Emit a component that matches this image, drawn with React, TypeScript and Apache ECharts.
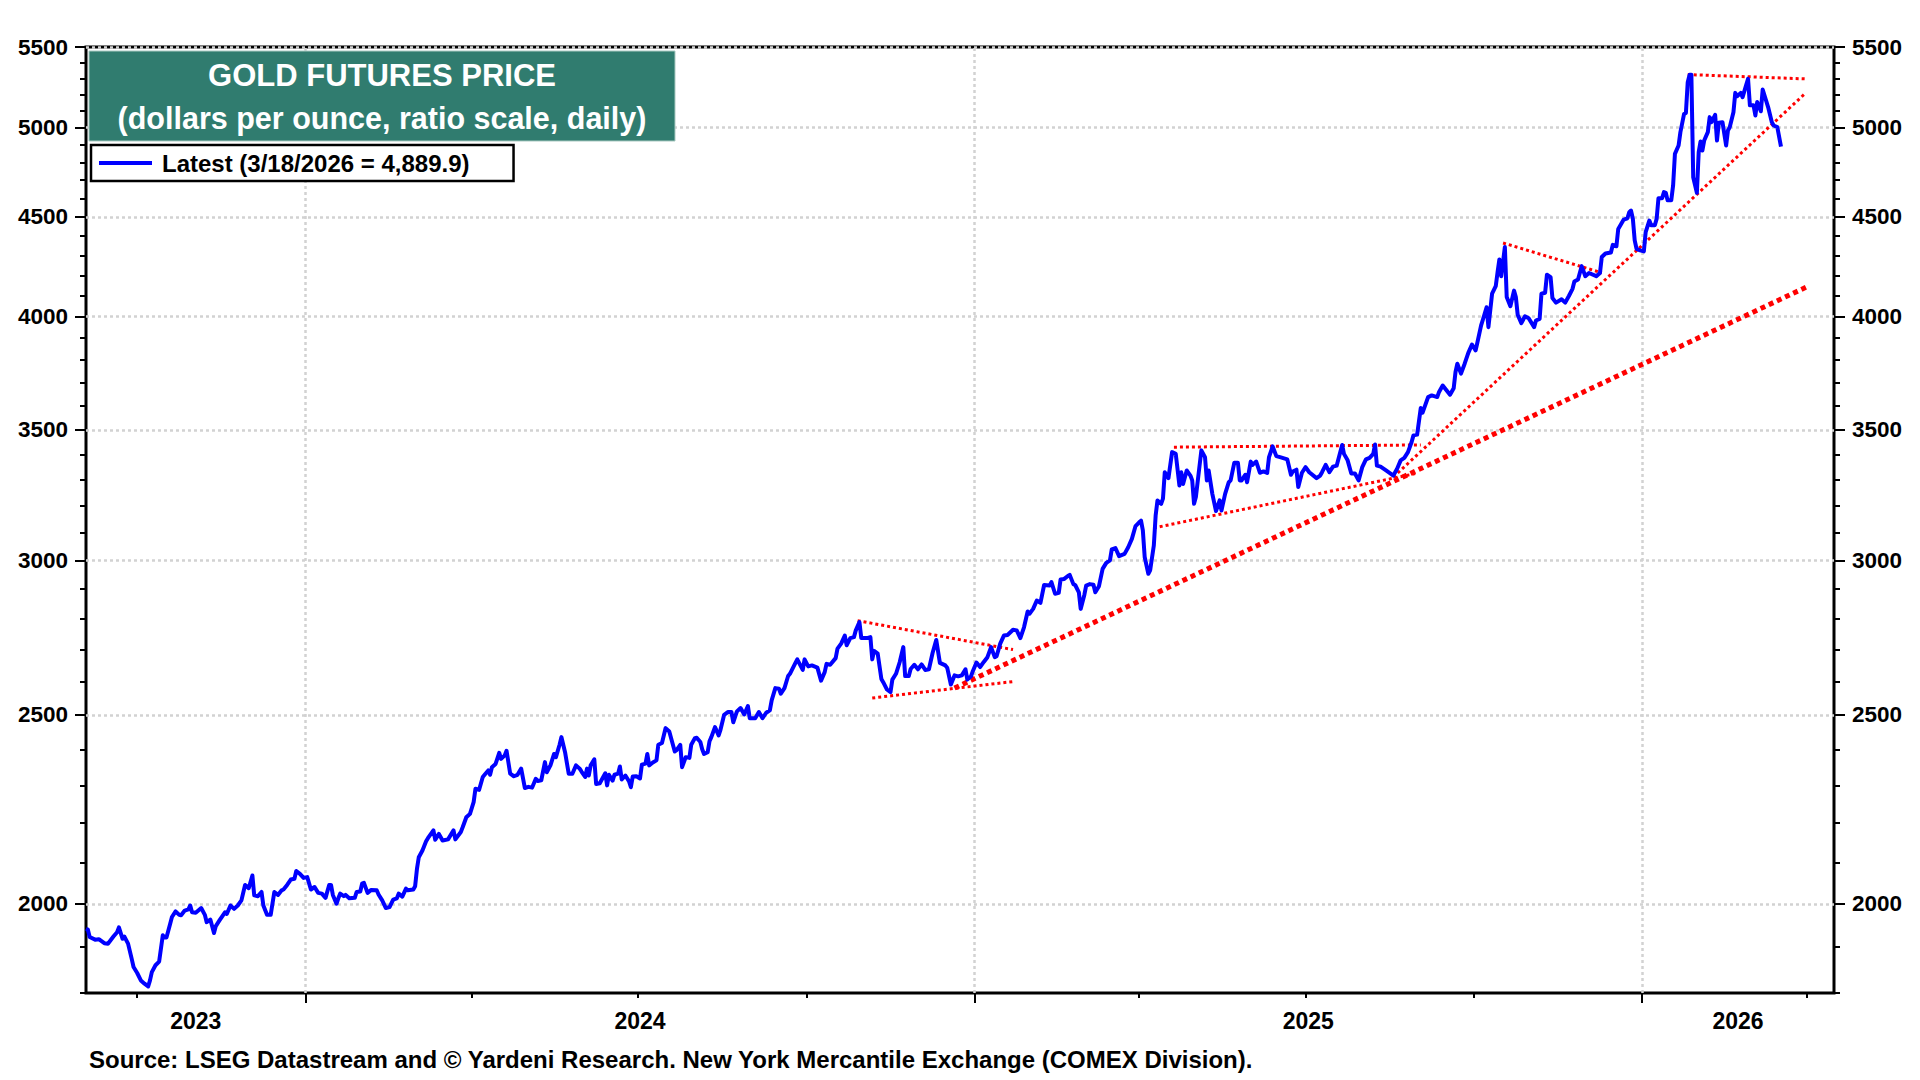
import React, { useEffect, useRef } from 'react';
import * as echarts from 'echarts';

const FONT = '"Liberation Sans", Arial, Helvetica, sans-serif';

// ---- Gold futures price (date, $/oz) ----
const dates2023 = ['2023-09-03','2023-09-04','2023-09-05','2023-09-08','2023-09-10','2023-09-13','2023-09-15','2023-09-18','2023-09-20','2023-09-21','2023-09-23','2023-09-24','2023-09-26','2023-09-28','2023-09-29','2023-10-01','2023-10-03','2023-10-05','2023-10-07','2023-10-08','2023-10-09','2023-10-11','2023-10-13','2023-10-15','2023-10-16','2023-10-17','2023-10-19','2023-10-20','2023-10-22','2023-10-24','2023-10-25','2023-10-27','2023-10-29','2023-10-30','2023-10-31','2023-11-02','2023-11-05','2023-11-07','2023-11-08','2023-11-10','2023-11-12','2023-11-13','2023-11-15','2023-11-18','2023-11-19','2023-11-21','2023-11-23','2023-11-25','2023-11-27','2023-11-29','2023-12-01','2023-12-03','2023-12-04','2023-12-06','2023-12-08','2023-12-09','2023-12-11','2023-12-13','2023-12-15','2023-12-17','2023-12-19','2023-12-20','2023-12-22','2023-12-24','2023-12-26','2023-12-27','2023-12-29','2023-12-31'];
const prices2023 = [1942,1940,1923,1917,1918,1909,1908,1924,1934,1945,1919,1924,1908,1874,1856,1843,1827,1820,1814,1827,1845,1860,1868,1927,1922,1922,1953,1969,1982,1974,1973,1984,1987,1996,1980,1979,1990,1974,1957,1963,1932,1948,1961,1980,1976,1996,1988,1996,2008,2045,2037,2068,2020,2018,2028,1996,1974,1974,2028,2021,2032,2034,2045,2058,2060,2079,2072,2062];

const dates2024 = ['2024-01-02','2024-01-04','2024-01-06','2024-01-08','2024-01-10','2024-01-12','2024-01-14','2024-01-15','2024-01-16','2024-01-18','2024-01-19','2024-01-20','2024-01-22','2024-01-23','2024-01-25','2024-01-28','2024-01-29','2024-01-31','2024-02-01','2024-02-02','2024-02-04','2024-02-06','2024-02-09','2024-02-10','2024-02-12','2024-02-14','2024-02-16','2024-02-18','2024-02-20','2024-02-21','2024-02-23','2024-02-25','2024-02-26','2024-02-29','2024-03-01','2024-03-02','2024-03-03','2024-03-05','2024-03-07','2024-03-08','2024-03-11','2024-03-12','2024-03-14','2024-03-16','2024-03-19','2024-03-22','2024-03-23','2024-03-26','2024-03-27','2024-03-29','2024-03-31','2024-04-02','2024-04-03','2024-04-05','2024-04-07','2024-04-08','2024-04-10','2024-04-11','2024-04-12','2024-04-14','2024-04-16','2024-04-17','2024-04-19','2024-04-20','2024-04-22','2024-04-24','2024-04-26','2024-04-28','2024-04-30','2024-05-02','2024-05-04','2024-05-06','2024-05-07','2024-05-09','2024-05-11','2024-05-12','2024-05-14','2024-05-16','2024-05-17','2024-05-19','2024-05-20','2024-05-22','2024-05-24','2024-05-26','2024-05-28','2024-05-30','2024-05-31','2024-06-02','2024-06-03','2024-06-04','2024-06-05','2024-06-07','2024-06-08','2024-06-10','2024-06-13','2024-06-14','2024-06-15','2024-06-17','2024-06-18','2024-06-20','2024-06-21','2024-06-22','2024-06-24','2024-06-26','2024-06-27','2024-06-28','2024-06-30','2024-07-02','2024-07-03','2024-07-05','2024-07-06','2024-07-07','2024-07-09','2024-07-11','2024-07-12','2024-07-14','2024-07-16','2024-07-18','2024-07-21','2024-07-22','2024-07-24','2024-07-25','2024-07-27','2024-07-29','2024-07-30','2024-08-01','2024-08-02','2024-08-04','2024-08-05','2024-08-06','2024-08-08','2024-08-09','2024-08-10','2024-08-12','2024-08-14','2024-08-15','2024-08-17','2024-08-19','2024-08-21','2024-08-22','2024-08-24','2024-08-26','2024-08-28','2024-08-30','2024-08-31','2024-09-03','2024-09-05','2024-09-07','2024-09-09','2024-09-11','2024-09-12','2024-09-14','2024-09-16','2024-09-17','2024-09-19','2024-09-21','2024-09-22','2024-09-25','2024-09-26','2024-09-29','2024-09-30','2024-10-02','2024-10-04','2024-10-07','2024-10-09','2024-10-11','2024-10-12','2024-10-14','2024-10-17','2024-10-18','2024-10-20','2024-10-22','2024-10-23','2024-10-25','2024-10-27','2024-10-28','2024-10-30','2024-10-31','2024-11-03','2024-11-05','2024-11-06','2024-11-07','2024-11-09','2024-11-11','2024-11-12','2024-11-14','2024-11-16','2024-11-17','2024-11-19','2024-11-21','2024-11-23','2024-11-24','2024-11-26','2024-11-27','2024-11-29','2024-12-01','2024-12-03','2024-12-05','2024-12-07','2024-12-09','2024-12-11','2024-12-13','2024-12-16','2024-12-17','2024-12-19','2024-12-21','2024-12-23','2024-12-25','2024-12-27','2024-12-28','2024-12-30','2024-12-31'];
const prices2024 = [2064,2034,2040,2026,2024,2014,2045,2045,2021,2000,2013,2024,2018,2021,2013,2014,2028,2029,2048,2050,2026,2033,2032,2022,2008,1990,1992,2010,2013,2024,2017,2036,2032,2034,2042,2084,2113,2130,2153,2161,2181,2157,2172,2155,2158,2181,2158,2177,2189,2215,2224,2255,2291,2288,2323,2329,2341,2329,2350,2359,2390,2373,2383,2396,2332,2325,2329,2346,2293,2296,2294,2318,2312,2314,2364,2336,2355,2387,2378,2413,2435,2392,2332,2332,2355,2346,2338,2323,2346,2327,2355,2372,2304,2306,2333,2300,2329,2313,2329,2332,2352,2316,2327,2311,2295,2324,2325,2319,2357,2360,2387,2355,2363,2369,2413,2418,2461,2451,2394,2398,2413,2350,2378,2376,2413,2432,2433,2421,2400,2387,2392,2423,2435,2464,2440,2456,2500,2508,2508,2478,2510,2520,2501,2526,2490,2490,2508,2490,2506,2513,2543,2580,2578,2563,2580,2617,2624,2658,2669,2636,2669,2647,2650,2643,2603,2629,2655,2652,2673,2703,2719,2745,2714,2737,2740,2762,2789,2737,2737,2740,2669,2696,2687,2608,2598,2576,2568,2606,2624,2660,2708,2617,2617,2639,2652,2638,2653,2636,2638,2689,2731,2658,2650,2643,2591,2619,2616,2619,2638,2606,2616,2632];

const dates2025 = ['2025-01-02','2025-01-04','2025-01-06','2025-01-08','2025-01-10','2025-01-12','2025-01-13','2025-01-15','2025-01-17','2025-01-19','2025-01-22','2025-01-24','2025-01-26','2025-01-28','2025-01-30','2025-01-31','2025-02-02','2025-02-04','2025-02-06','2025-02-08','2025-02-11','2025-02-12','2025-02-14','2025-02-16','2025-02-17','2025-02-19','2025-02-21','2025-02-22','2025-02-24','2025-02-25','2025-02-27','2025-02-28','2025-03-02','2025-03-03','2025-03-05','2025-03-07','2025-03-08','2025-03-10','2025-03-12','2025-03-14','2025-03-16','2025-03-17','2025-03-19','2025-03-21','2025-03-24','2025-03-26','2025-03-28','2025-03-30','2025-04-01','2025-04-02','2025-04-03','2025-04-04','2025-04-06','2025-04-07','2025-04-09','2025-04-10','2025-04-11','2025-04-13','2025-04-14','2025-04-15','2025-04-17','2025-04-19','2025-04-21','2025-04-23','2025-04-24','2025-04-25','2025-04-27','2025-04-29','2025-04-30','2025-05-01','2025-05-02','2025-05-05','2025-05-07','2025-05-08','2025-05-09','2025-05-11','2025-05-13','2025-05-15','2025-05-16','2025-05-18','2025-05-20','2025-05-21','2025-05-23','2025-05-25','2025-05-26','2025-05-27','2025-05-29','2025-05-30','2025-06-01','2025-06-02','2025-06-04','2025-06-06','2025-06-08','2025-06-10','2025-06-11','2025-06-13','2025-06-15','2025-06-17','2025-06-21','2025-06-23','2025-06-24','2025-06-26','2025-06-27','2025-06-29','2025-07-01','2025-07-03','2025-07-07','2025-07-09','2025-07-10','2025-07-12','2025-07-14','2025-07-16','2025-07-18','2025-07-21','2025-07-22','2025-07-24','2025-07-26','2025-07-28','2025-07-30','2025-08-01','2025-08-03','2025-08-05','2025-08-07','2025-08-08','2025-08-09','2025-08-11','2025-08-14','2025-08-18','2025-08-20','2025-08-22','2025-08-24','2025-08-26','2025-08-28','2025-08-29','2025-08-31','2025-09-02','2025-09-03','2025-09-06','2025-09-08','2025-09-11','2025-09-12','2025-09-14','2025-09-18','2025-09-20','2025-09-21','2025-09-22','2025-09-24','2025-09-26','2025-09-28','2025-09-30','2025-10-02','2025-10-03','2025-10-05','2025-10-06','2025-10-08','2025-10-09','2025-10-11','2025-10-13','2025-10-14','2025-10-15','2025-10-16','2025-10-18','2025-10-19','2025-10-21','2025-10-23','2025-10-24','2025-10-25','2025-10-27','2025-10-29','2025-10-31','2025-11-03','2025-11-04','2025-11-06','2025-11-07','2025-11-09','2025-11-10','2025-11-12','2025-11-13','2025-11-15','2025-11-18','2025-11-20','2025-11-22','2025-11-24','2025-11-25','2025-11-27','2025-11-29','2025-12-01','2025-12-03','2025-12-07','2025-12-09','2025-12-10','2025-12-12','2025-12-15','2025-12-16','2025-12-18','2025-12-19','2025-12-22','2025-12-24','2025-12-25','2025-12-26','2025-12-27','2025-12-28','2025-12-29','2025-12-31'];
const prices2025 = [2659,2645,2661,2676,2708,2676,2679,2719,2745,2747,2764,2762,2737,2772,2824,2817,2833,2861,2853,2914,2912,2924,2884,2887,2933,2935,2945,2949,2917,2914,2889,2833,2880,2912,2917,2915,2889,2910,2970,2991,3000,3039,3044,3015,3023,3047,3077,3124,3138,3144,3108,3012,2953,2965,3053,3163,3220,3207,3227,3329,3306,3409,3402,3277,3329,3283,3336,3316,3297,3207,3233,3416,3389,3297,3336,3245,3180,3220,3182,3245,3290,3297,3366,3366,3297,3297,3319,3290,3371,3358,3371,3327,3332,3326,3389,3432,3393,3389,3380,3319,3332,3339,3271,3327,3349,3329,3306,3316,3329,3358,3329,3351,3355,3438,3402,3376,3324,3324,3297,3349,3380,3386,3402,3440,3355,3351,3336,3316,3342,3376,3386,3409,3450,3477,3480,3591,3572,3638,3645,3638,3660,3688,3648,3676,3747,3784,3740,3784,3833,3871,3844,3881,3959,3987,4045,3951,4110,4147,4216,4280,4196,4343,4094,4050,4125,4094,4009,3970,4002,3993,3951,3982,3990,4110,4115,4203,4191,4089,4067,4083,4067,4099,4134,4170,4180,4246,4196,4212,4196,4212,4292,4310,4315,4354,4347,4437,4486,4493,4525,4534,4490,4377,4334,4326];

const dates2026 = ['2026-01-02','2026-01-03','2026-01-05','2026-01-06','2026-01-08','2026-01-09','2026-01-10','2026-01-12','2026-01-13','2026-01-14','2026-01-15','2026-01-17','2026-01-18','2026-01-19','2026-01-21','2026-01-22','2026-01-24','2026-01-25','2026-01-26','2026-01-27','2026-01-28','2026-01-29','2026-01-31','2026-02-01','2026-02-02','2026-02-03','2026-02-04','2026-02-06','2026-02-07','2026-02-08','2026-02-10','2026-02-11','2026-02-12','2026-02-14','2026-02-16','2026-02-17','2026-02-18','2026-02-20','2026-02-21','2026-02-22','2026-02-24','2026-02-25','2026-02-27','2026-02-28','2026-03-01','2026-03-03','2026-03-04','2026-03-05','2026-03-07','2026-03-08','2026-03-11','2026-03-13','2026-03-14','2026-03-16','2026-03-18'];
const prices2026 = [4321,4420,4481,4456,4456,4490,4601,4601,4634,4630,4589,4589,4670,4848,4896,4974,5082,5088,5276,5322,5322,4716,4630,4858,4919,4867,4925,4974,5063,5033,5077,4925,5029,5033,4896,4984,5004,5092,5210,5190,5210,5184,5259,5297,5134,5134,5073,5154,5098,5231,5122,5033,5013,5004,4889.9];

const latestLabelDate = '3/18/2026';
const latestValue = 4889.9;

// ---- Red dotted trend lines: [startDate, startValue, endDate, endValue] ----
const thinTrendLines: [string, number, string, number][] = [
  ['2024-10-29', 2794, '2025-01-22', 2700],
  ['2024-11-06', 2550, '2025-01-22', 2600],
  ['2025-04-20', 3429, '2025-09-02', 3438],
  ['2025-04-09', 3117, '2025-08-31', 3325],
  ['2025-08-18', 3310, '2026-03-31', 5204],
  ['2025-10-17', 4364, '2025-12-10', 4213],
  ['2026-01-26', 5324, '2026-03-31', 5297],
];
const thickTrendLines: [string, number, string, number][] = [
  ['2024-12-21', 2580, '2026-04-01', 4143],
];

// ---- Axes ----
const xMin = '2023-09-03';
const xMax = '2026-04-16';
const yearStarts = ['2024-01-01', '2025-01-01', '2026-01-01'];
const quarterTicks = ['2023-10-01', '2024-04-01', '2024-07-01', '2024-10-01', '2025-04-01', '2025-07-01', '2025-10-01', '2026-04-01'];
const yearLabels = [2023, 2024, 2025, 2026];
const yMin = 1800;
const yMax = 5500;
const yLabelValues = [2000, 2500, 3000, 3500, 4000, 4500, 5000, 5500];
const yMinorTicks = [1800, 1900, 2000, 2100, 2200, 2300, 2400, 2500, 2600, 2700, 2800, 2900, 3000, 3100, 3200, 3300, 3400, 3500, 3600, 3700, 3800, 3900, 4000, 4100, 4200, 4300, 4400, 4500, 4600, 4700, 4800, 4900, 5000, 5100, 5200, 5300, 5400, 5500];

const titleLine1 = 'GOLD FUTURES PRICE';
const titleLine2 = '(dollars per ounce, ratio scale, daily)';
const sourceText = 'Source: LSEG Datastream and \u00A9 Yardeni Research. New York Mercantile Exchange (COMEX Division).';

const t = (s: string) => {
  const [y, m, d] = s.split('-').map(Number);
  return new Date(y, m - 1, d).getTime();
};

export default function App() {
  const ref = useRef<HTMLDivElement>(null);

  useEffect(() => {
    if (!ref.current) return;
    const chart = echarts.init(ref.current, undefined, { renderer: 'svg' });

    const goldName = `Latest (${latestLabelDate} = ${latestValue.toLocaleString('en-US', { minimumFractionDigits: 1 })})`;
    const allDates = [...dates2023, ...dates2024, ...dates2025, ...dates2026];
    const allPrices = [...prices2023, ...prices2024, ...prices2025, ...prices2026];
    const goldData = allDates.map((d, i) => [t(d), allPrices[i]]);

    const minT = t(xMin);
    const maxT = t(xMax);
    const labelPositions = yearLabels.map((y) => {
      const s = Math.max(new Date(y, 0, 1).getTime(), minT);
      const e = Math.min(new Date(y + 1, 0, 1).getTime(), maxT);
      return (s + e) / 2;
    });

    const tickStyle = { color: '#000', width: 2 };
    const labelStyle = { fontSize: 22.5, fontWeight: 'bold' as const, color: '#000', fontFamily: FONT };

    const yBase: any = {
      type: 'log', logBase: 10, min: yMin, max: yMax,
      splitLine: { show: false }, axisLine: { show: false, onZero: false },
      axisLabel: { show: false }, axisTick: { show: false },
    };
    const xValBase: any = {
      type: 'value', min: minT, max: maxT,
      splitLine: { show: false }, axisLine: { show: false, onZero: false },
      axisLabel: { show: false }, axisTick: { show: false },
    };

    const trendSeries = (lines: [string, number, string, number][], width: number, dash: number[]) =>
      lines.map((l) => ({
        type: 'line', silent: true, z: 6, symbol: 'none', showSymbol: false,
        data: [[t(l[0]), l[1]], [t(l[2]), l[3]]],
        lineStyle: { color: '#ff0000', width, type: dash, cap: 'butt' },
      }));

    const yLabelFmt = (v: number) => String(Math.round(v));

    const option: any = {
      animation: false,
      backgroundColor: '#ffffff',
      grid: { left: 86, right: 86, top: 47, bottom: 87, show: true, borderColor: '#000', borderWidth: 3, backgroundColor: 'transparent', containLabel: false },
      legend: {
        data: [goldName], left: 91, top: 145, orient: 'horizontal',
        backgroundColor: '#fff', borderColor: '#000', borderWidth: 2.5, borderRadius: 0,
        padding: [6, 44, 6, 8], itemWidth: 53, itemHeight: 4, icon: 'rect', selectedMode: false,
        textStyle: { fontSize: 24, fontWeight: 'bold', color: '#000', fontFamily: FONT, padding: [0, 0, 0, 5] },
        z: 20,
      },
      xAxis: [
        { type: 'time', min: minT, max: maxT, splitLine: { show: false }, axisLine: { show: false, onZero: false }, axisLabel: { show: false }, axisTick: { show: false } },
        { ...xValBase, position: 'bottom', axisTick: { show: true, customValues: yearStarts.map(t), length: 10, lineStyle: tickStyle },
          axisLabel: { show: true, customValues: labelPositions, margin: 16, ...labelStyle, fontSize: 23,
            formatter: (v: number) => String(new Date(v).getFullYear()) } },
        { ...xValBase, position: 'bottom', axisTick: { show: true, customValues: quarterTicks.map(t), length: 5, lineStyle: tickStyle } },
      ],
      yAxis: [
        { ...yBase, position: 'left', axisTick: { show: true, customValues: yMinorTicks, length: 6, lineStyle: tickStyle } },
        { ...yBase, position: 'left', axisTick: { show: true, customValues: yLabelValues, length: 11, lineStyle: tickStyle },
          axisLabel: { show: true, customValues: yLabelValues, margin: 18, formatter: yLabelFmt, ...labelStyle } },
        { ...yBase, position: 'right', axisTick: { show: true, customValues: yMinorTicks, length: 6, lineStyle: tickStyle } },
        { ...yBase, position: 'right', axisTick: { show: true, customValues: yLabelValues, length: 11, lineStyle: tickStyle },
          axisLabel: { show: true, customValues: yLabelValues, margin: 18, formatter: yLabelFmt, ...labelStyle } },
      ],
      series: [
        {
          type: 'line', name: 'grid', silent: true, z: 1, symbol: 'none', showSymbol: false,
          data: [[minT, yMin]], lineStyle: { opacity: 0 },
          markLine: {
            silent: true, symbol: ['none', 'none'], z: 1, animation: false,
            label: { show: false },
            lineStyle: { color: '#d2d2d2', width: 2.5, type: [3, 3] },
            data: [
              ...yLabelValues.map((v) => ({ yAxis: v })),
              ...yearStarts.map((d) => ({ xAxis: t(d) })),
            ],
          },
        },
        ...trendSeries(thickTrendLines, 5, [5, 4]),
        ...trendSeries(thinTrendLines, 3, [3, 3]),
        {
          type: 'line', name: goldName, z: 10, symbol: 'none', showSymbol: false,
          data: goldData, color: '#0000ff',
          lineStyle: { color: '#0000ff', width: 4, join: 'round' },
        },
      ],
      graphic: [
        { type: 'rect', z: 100, shape: { x: 89, y: 51, width: 586, height: 90 }, style: { fill: '#307c6f', stroke: '#a9c9c2', lineWidth: 1 } },
        { type: 'text', z: 101, x: 382, y: 75, style: { text: titleLine1, fill: '#fff', fontSize: 31, fontWeight: 'bold', fontFamily: FONT, align: 'center', verticalAlign: 'middle' } },
        { type: 'text', z: 101, x: 382, y: 118, style: { text: titleLine2, fill: '#fff', fontSize: 30.5, fontWeight: 'bold', fontFamily: FONT, align: 'center', verticalAlign: 'middle' } },
        { type: 'text', z: 101, x: 89, y: 1059, style: { text: sourceText, fill: '#000', fontSize: 24, fontWeight: 'bold', fontFamily: FONT, align: 'left', verticalAlign: 'middle' } },
      ],
    };

    chart.setOption(option);
    return () => chart.dispose();
  }, []);

  return <div ref={ref} style={{ position: 'fixed', left: 0, top: 0, width: '1920px', height: '1080px', background: '#fff' }} />;
}
